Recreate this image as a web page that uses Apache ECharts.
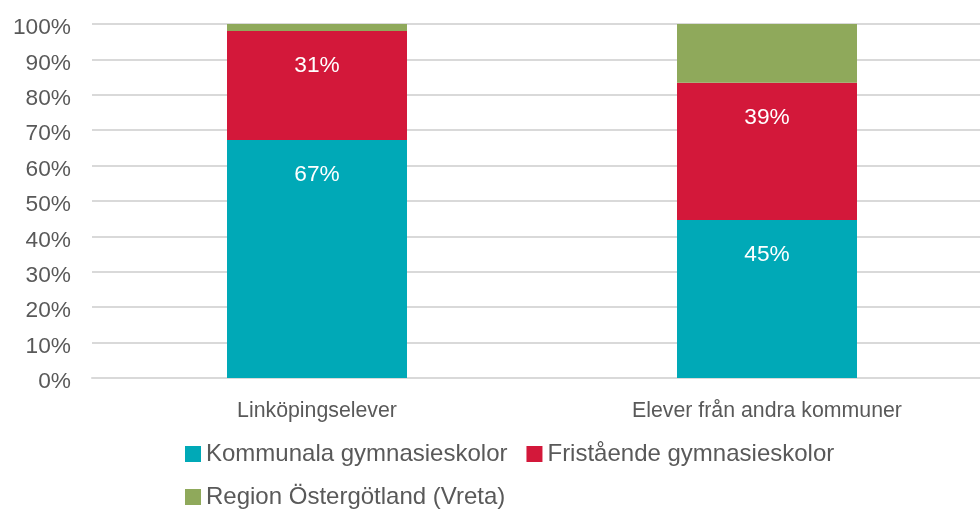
<!DOCTYPE html>
<html>
<head>
<meta charset="utf-8">
<script src="https://cdn.jsdelivr.net/npm/echarts@6/dist/echarts.min.js"></script>
<style>
  html, body { margin: 0; padding: 0; background: #fff; overflow: hidden; }
  /* plot runs a little past the right edge of the window, as in the reference */
  #chart { width: 992px; height: 510px; }
</style>
</head>
<body>
<div id="chart"></div>
<script>
// data
var categories = ['Linköpingselever', 'Elever från andra kommuner'];
var kommunala = [67.2, 44.6];
var fristaende = [30.8, 38.8];
var region = [2.0, 16.6];
var seriesNames = ['Kommunala gymnasieskolor', 'Fristående gymnasieskolor', 'Region Östergötland (Vreta)'];

var chart = echarts.init(document.getElementById('chart'));

var segLabel = {
  show: true,
  position: ['50%', 35],
  align: 'center',
  verticalAlign: 'middle',
  color: '#ffffff',
  fontSize: 22.7,
  formatter: function (p) { return Math.round(p.value) + '%'; }
};

var option = {
  animation: false,
  textStyle: { fontFamily: 'Liberation Sans, Arial, sans-serif' },
  grid: {
    left: 92,
    right: 0,
    top: 24,
    height: 354
  },
  legend: {
    left: 180,
    top: 437,
    width: 700,
    itemWidth: 16,
    itemHeight: 16,
    itemGap: 19,
    icon: 'rect',
    textStyle: {
      fontSize: 24,
      color: '#595959',
      padding: [0, 5, 0, 0]
    },
    data: seriesNames
  },
  xAxis: {
    type: 'category',
    data: categories,
    axisTick: { show: false },
    axisLine: { lineStyle: { color: '#d9d9d9', width: 2 } },
    axisLabel: {
      fontSize: 21.3,
      color: '#595959',
      margin: 23
    }
  },
  yAxis: {
    type: 'value',
    min: 0,
    max: 100,
    interval: 10,
    axisLine: { show: false },
    axisTick: { show: false },
    splitLine: { lineStyle: { color: '#d9d9d9', width: 2 } },
    axisLabel: {
      margin: 21,
      formatter: '{a|{value}%}',
      rich: {
        a: {
          fontSize: 22.7,
          color: '#595959',
          padding: [8, 0, 0, 0]
        }
      }
    }
  },
  series: [{
    name: seriesNames[0],
    type: 'bar',
    stack: 'total',
    barWidth: 180,
    itemStyle: { color: '#00A9B7' },
    label: segLabel,
    data: kommunala
  }, {
    name: seriesNames[1],
    type: 'bar',
    stack: 'total',
    barWidth: 180,
    itemStyle: { color: '#D3183A' },
    label: segLabel,
    data: fristaende
  }, {
    name: seriesNames[2],
    type: 'bar',
    stack: 'total',
    barWidth: 180,
    itemStyle: { color: '#8FA95B' },
    label: { show: false },
    data: region
  }]
};

chart.setOption(option);
</script>
</body>
</html>
